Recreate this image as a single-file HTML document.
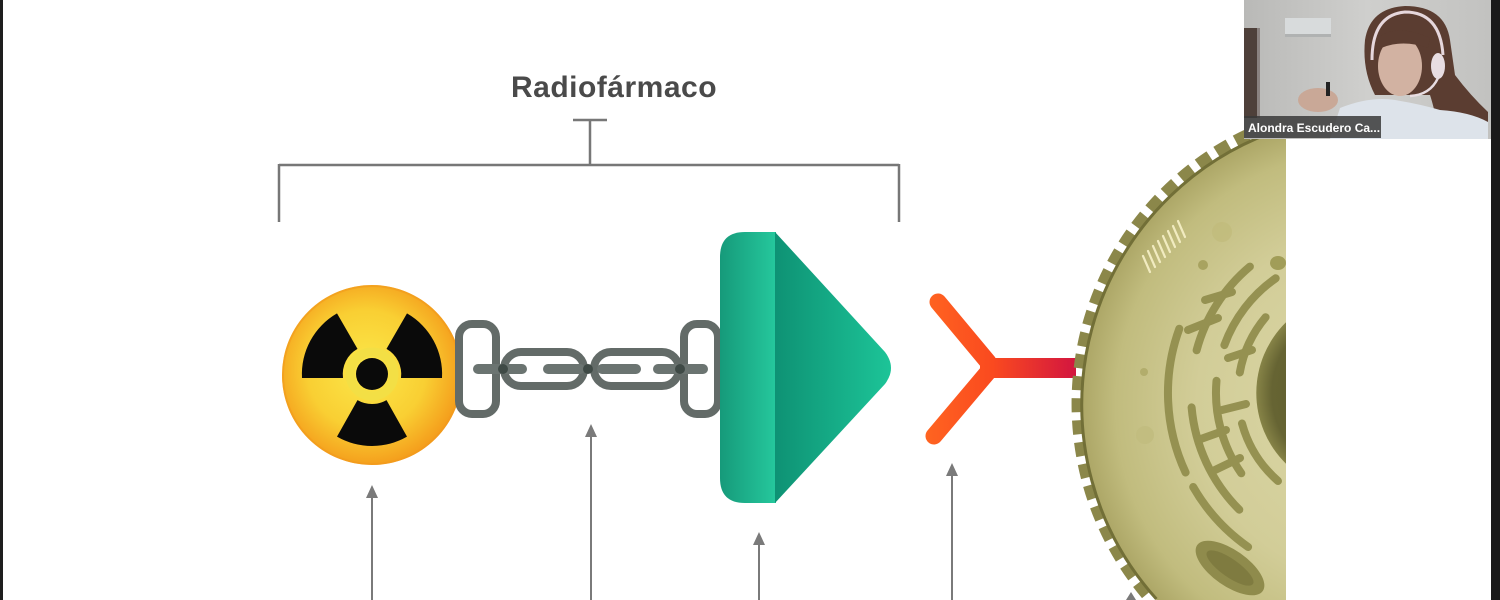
<!DOCTYPE html>
<html><head><meta charset="utf-8"><style>
html,body{margin:0;padding:0;background:#fff;width:1500px;height:600px;overflow:hidden;}
body{position:relative;}
svg{position:absolute;left:0;top:0;display:block;}
</style></head><body>
<svg width="1500" height="600" viewBox="0 0 1500 600" xmlns="http://www.w3.org/2000/svg">
<defs>
<radialGradient id="rad" cx="0.47" cy="0.47" r="0.55">
<stop offset="0" stop-color="#fbe84a"/><stop offset="0.6" stop-color="#f9cf33"/><stop offset="1" stop-color="#f49a1a"/>
</radialGradient>
<linearGradient id="gl" x1="720" y1="0" x2="775" y2="0" gradientUnits="userSpaceOnUse">
<stop offset="0" stop-color="#169a7a"/><stop offset="1" stop-color="#25c79c"/>
</linearGradient>
<linearGradient id="gt" x1="775" y1="0" x2="895" y2="0" gradientUnits="userSpaceOnUse">
<stop offset="0" stop-color="#0e9274"/><stop offset="1" stop-color="#1dc699"/>
</linearGradient>
<linearGradient id="ab" x1="925" y1="0" x2="1075" y2="0" gradientUnits="userSpaceOnUse">
<stop offset="0" stop-color="#ff6420"/><stop offset="0.45" stop-color="#fa4a1f"/><stop offset="1" stop-color="#d3163f"/>
</linearGradient>
<radialGradient id="cellg" cx="1371" cy="405" r="290" gradientUnits="userSpaceOnUse">
<stop offset="0" stop-color="#dcd8a8"/><stop offset="0.6" stop-color="#d2cd98"/><stop offset="0.88" stop-color="#c1bc7e"/><stop offset="1" stop-color="#aca666"/>
</radialGradient>
<radialGradient id="nuc" cx="1356" cy="393" r="99" gradientUnits="userSpaceOnUse">
<stop offset="0" stop-color="#5a592b"/><stop offset="0.85" stop-color="#666433"/><stop offset="1" stop-color="#858246"/>
</radialGradient>
<linearGradient id="wall" x1="0" y1="0" x2="1" y2="0">
<stop offset="0" stop-color="#b9b9b7"/><stop offset="0.5" stop-color="#cfcfcd"/><stop offset="1" stop-color="#c2c2c0"/>
</linearGradient>
</defs>

<!-- frame borders -->
<rect x="0" y="0" width="3" height="600" fill="#1e1e1e"/>
<rect x="1491" y="0" width="9" height="600" fill="#1a1a1a"/>

<!-- title -->
<text x="614" y="97" text-anchor="middle" font-family="Liberation Sans, sans-serif" font-size="30" font-weight="bold" letter-spacing="0.5" fill="#4a4a4a">Radiofármaco</text>

<!-- bracket -->
<g stroke="#777" stroke-width="2.5" fill="none">
<line x1="573" y1="120" x2="607" y2="120"/>
<line x1="590" y1="120" x2="590" y2="165"/>
<line x1="279" y1="165" x2="899" y2="165"/>
<line x1="279" y1="164" x2="279" y2="222"/>
<line x1="899" y1="164" x2="899" y2="222"/>
</g>

<!-- radiation symbol -->
<circle cx="372" cy="375" r="90" fill="url(#rad)"/>
<circle cx="372" cy="375" r="89" fill="none" stroke="#f29a1c" stroke-width="2" opacity="0.6"/>
<g fill="#0a0a0a">
<path d="M401,378 L442,378 A70,70 0 0 0 407,313.4 L386.5,348.9 A29,29 0 0 1 401,378 Z"/>
<path d="M357.5,348.9 L337,313.4 A70,70 0 0 0 302,378 L343,378 A29,29 0 0 1 357.5,348.9 Z"/>
<path d="M357.5,400.1 L337,436.6 A70,70 0 0 0 407,436.6 L386.5,400.1 A29,29 0 0 1 357.5,400.1 Z"/>
</g>
<circle cx="372" cy="374" r="22" fill="none" stroke="#f3df45" stroke-width="9"/>
<circle cx="372" cy="374" r="16" fill="#0a0a0a"/>

<!-- chain -->
<g fill="none" stroke="#636b68" stroke-width="8">
<rect x="459" y="324" width="37" height="90" rx="13"/>
<rect x="504" y="352" width="80" height="34" rx="17"/>
<rect x="594" y="352" width="85" height="34" rx="17"/>
<rect x="684" y="324" width="34" height="90" rx="13"/>
</g>
<g stroke="#6b7471" stroke-width="10" stroke-linecap="round">
<line x1="478" y1="369" x2="522" y2="369"/>
<line x1="548" y1="369" x2="580" y2="369"/>
<line x1="602" y1="369" x2="636" y2="369"/>
<line x1="658" y1="369" x2="703" y2="369"/>
</g>
<g fill="#3f4a46">
<circle cx="503" cy="369" r="5"/><circle cx="588" cy="369" r="5"/><circle cx="680" cy="369" r="5"/>
</g>

<!-- green targeting shape -->
<path d="M745,232 L776,232 L776,503 L745,503 Q720,503 720,478 L720,257 Q720,232 745,232 Z" fill="url(#gl)"/>
<path d="M775,232 L885,352 Q897,368 885,384 L775,503 Z" fill="url(#gt)"/>

<!-- antibody -->
<g stroke="url(#ab)" stroke-linecap="round" fill="none">
<line x1="938" y1="302" x2="988" y2="362" stroke-width="17"/>
<line x1="934" y1="436" x2="988" y2="372" stroke-width="17"/>
</g>
<rect x="980" y="358" width="96" height="20" fill="url(#ab)"/>

<!-- cell (geometry kept inside frame) -->
<path d="M1147,594 A297,297 0 0 1 1286,120.4" fill="none" stroke="#8b874a" stroke-width="13" stroke-dasharray="14 8"/>
<path d="M1156.4,600 A290,290 0 0 1 1286,127.7 L1286,600 Z" fill="url(#cellg)"/>
<path d="M1156.4,599 A290,290 0 0 1 1286,127.7" fill="none" stroke="#726f37" stroke-width="3"/>
<!-- blobs -->
<circle cx="1222" cy="232" r="10" fill="#c0bb7a" opacity="0.7"/>
<circle cx="1203" cy="265" r="5" fill="#a8a360"/>
<circle cx="1145" cy="435" r="9" fill="#c1bc7e" opacity="0.8"/>
<circle cx="1144" cy="372" r="4" fill="#b2ad6c"/>
<ellipse cx="1278" cy="263" rx="8" ry="7" fill="#a19d58"/>
<!-- hatch -->
<g stroke="#f1ebc0" stroke-width="2.2" stroke-linecap="round">
<line x1="1143" y1="256" x2="1150" y2="272"/>
<line x1="1148" y1="251" x2="1155" y2="267"/>
<line x1="1153" y1="246" x2="1160" y2="262"/>
<line x1="1158" y1="241" x2="1165" y2="257"/>
<line x1="1163" y1="236" x2="1170" y2="252"/>
<line x1="1168" y1="231" x2="1175" y2="247"/>
<line x1="1173" y1="226" x2="1180" y2="242"/>
<line x1="1178" y1="221" x2="1185" y2="237"/>
</g>
<!-- nucleus (visible part only) -->
<path d="M1286,322.3 A99,99 0 0 0 1286,463.7 Z" fill="url(#nuc)"/>
<!-- ER -->
<g fill="none" stroke="#959151" stroke-width="8" stroke-linecap="round">
<path d="M1179.3,328.7 A188,188 0 0 0 1185.6,472.5"/>
<path d="M1193.2,487 A188,188 0 0 0 1248.1,547"/>
<path d="M1249.9,266.6 A165,165 0 0 0 1196.6,350.3"/>
<path d="M1191.6,407.4 A165,165 0 0 0 1239.3,509.7"/>
<path d="M1275.7,278.3 A140,140 0 0 0 1224.4,345.1"/>
<path d="M1216.5,380.8 A140,140 0 0 0 1241.3,473.3"/>
<path d="M1265.6,317.2 A118,118 0 0 0 1239.8,372.5"/>
<path d="M1242,423.5 A118,118 0 0 0 1278,481"/>
<line x1="1188" y1="330" x2="1218" y2="318"/>
<line x1="1205" y1="300" x2="1232" y2="292"/>
<line x1="1198" y1="440" x2="1226" y2="430"/>
<line x1="1215" y1="470" x2="1240" y2="458"/>
<line x1="1228" y1="358" x2="1252" y2="350"/>
<line x1="1222" y1="410" x2="1246" y2="404"/>
</g>
<!-- mitochondrion -->
<ellipse cx="1230" cy="568" rx="40" ry="18" transform="rotate(35 1230 568)" fill="#8f8b4c"/>
<ellipse cx="1230" cy="568" rx="28" ry="9" transform="rotate(35 1230 568)" fill="#7f7b40"/>

<!-- arrows -->
<g stroke="#7a7a7a" stroke-width="2">
<line x1="372" y1="496" x2="372" y2="600"/>
<line x1="591" y1="434" x2="591" y2="600"/>
<line x1="759" y1="543" x2="759" y2="600"/>
<line x1="952" y1="474" x2="952" y2="600"/>
</g>
<g fill="#7a7a7a">
<polygon points="372,485 366,498 378,498"/>
<polygon points="591,424 585,437 597,437"/>
<polygon points="759,532 753,545 765,545"/>
<polygon points="952,463 946,476 958,476"/>
<polygon points="1131,592 1126,600 1136,600"/>
</g>

<!-- video tile -->
<g>
<rect x="1244" y="0" width="247" height="139" fill="url(#wall)"/>
<rect x="1285" y="18" width="46" height="18" fill="#d8dbdc"/>
<rect x="1285" y="34" width="46" height="3" fill="#b0b2b2"/>
<rect x="1244" y="28" width="13" height="90" fill="#4e403a"/>
<rect x="1257" y="28" width="3" height="90" fill="#8a8280"/>
<path d="M1365,40 Q1370,8 1405,6 Q1445,6 1450,40 L1455,75 Q1470,95 1488,112 L1488,139 L1440,139 Q1435,110 1430,95 L1375,95 Q1362,70 1365,40 Z" fill="#5b3d31"/>
<ellipse cx="1400" cy="66" rx="22" ry="30" fill="#d2b2a2"/>
<path d="M1375,40 Q1395,22 1430,38 L1428,48 Q1400,38 1377,50 Z" fill="#5b3d31"/>
<path d="M1372,60 Q1372,15 1405,12 Q1440,12 1443,55" fill="none" stroke="#e6d7dc" stroke-width="3"/>
<ellipse cx="1438" cy="66" rx="7" ry="13" fill="#e8dde2"/>
<path d="M1438,78 Q1430,95 1410,96" fill="none" stroke="#e8dde2" stroke-width="2.5"/>
<path d="M1330,139 L1340,108 Q1370,96 1395,100 Q1420,104 1440,110 Q1470,112 1488,122 L1488,139 Z" fill="#dde3ea"/>
<ellipse cx="1318" cy="100" rx="20" ry="12" fill="#c9a897"/>
<rect x="1326" y="82" width="4" height="14" fill="#222"/>
<rect x="1244" y="116" width="137" height="22" fill="#3a3a3a" opacity="0.85"/>
<text x="1248" y="132" font-family="Liberation Sans, sans-serif" font-size="12" font-weight="bold" fill="#ffffff">Alondra Escudero Ca...</text>
</g>
</svg>
</body></html>
